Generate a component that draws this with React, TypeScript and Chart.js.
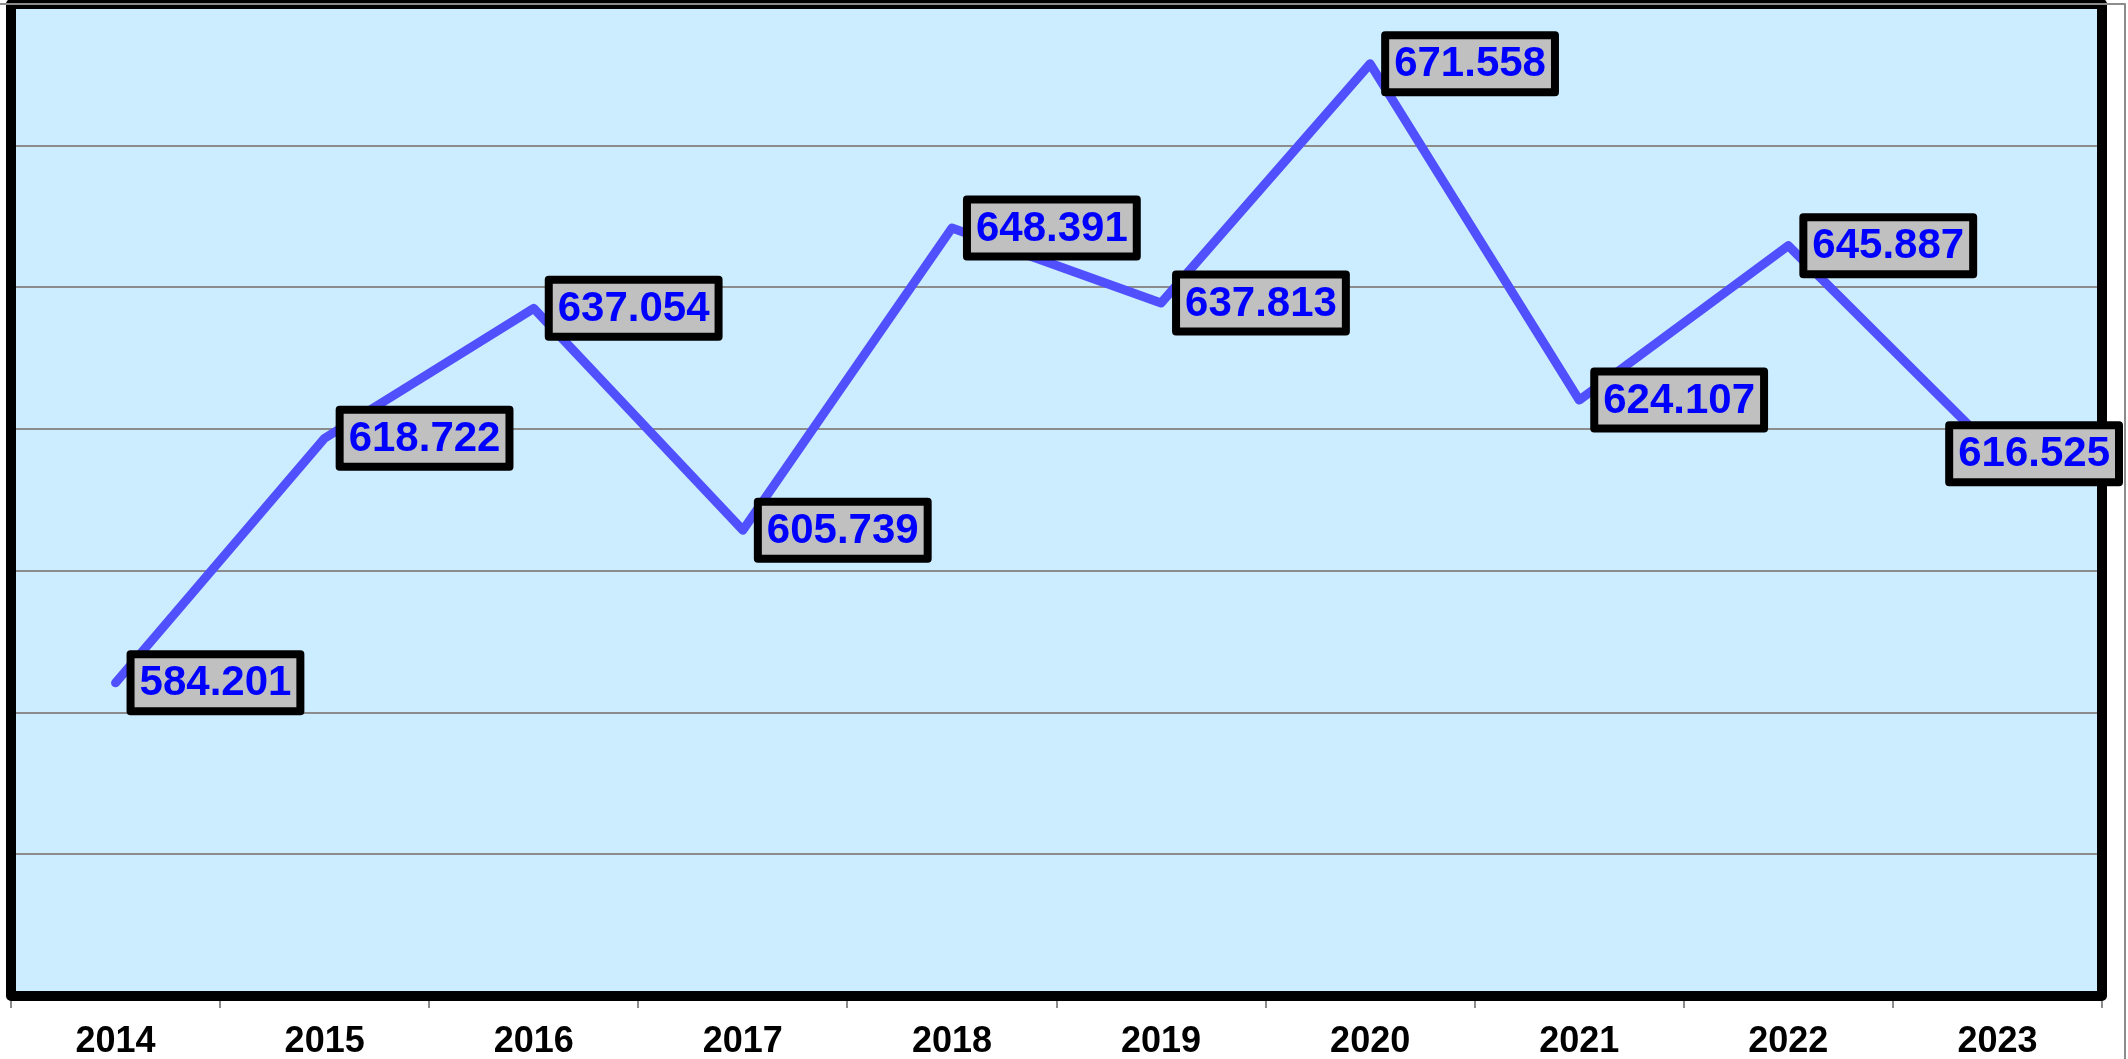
import React, { useEffect, useRef } from "react";
import { Chart, registerables } from "chart.js";

Chart.register(...registerables);

const categories = ["2014", "2015", "2016", "2017", "2018", "2019", "2020", "2021", "2022", "2023"];
const values = [584.201, 618.722, 637.054, 605.739, 648.391, 637.813, 671.558, 624.107, 645.887, 616.525];
const yMin = 540;
const yMax = 680;
const yStep = 20;

const FONT = '"Liberation Sans", Arial, sans-serif';

const decorPlugin = {
  id: "decor",
  beforeDraw(chart: any) {
    const { ctx, chartArea: a } = chart;
    ctx.save();
    ctx.fillStyle = "#CCECFF";
    ctx.fillRect(a.left, a.top, a.right - a.left, a.bottom - a.top);
    ctx.restore();
  },
  afterDatasetsDraw(chart: any) {
    const { ctx, chartArea: a, width } = chart;
    // frame
    ctx.save();
    ctx.strokeStyle = "#000000";
    ctx.lineWidth = 10;
    ctx.lineJoin = "round";
    ctx.strokeRect(a.left, a.top, a.right - a.left, a.bottom - a.top);
    // outer grey border (top and right)
    ctx.strokeStyle = "#8c8c8c";
    ctx.lineWidth = 2;
    ctx.beginPath();
    ctx.moveTo(-5, 4);
    ctx.lineTo(width - 3, 4);
    ctx.lineTo(width - 3, chart.height + 5);
    ctx.stroke();
    ctx.restore();

    // data labels
    const meta = chart.getDatasetMeta(0);
    ctx.save();
    ctx.font = "bold 42px " + FONT;
    ctx.textBaseline = "middle";
    ctx.textAlign = "center";
    meta.data.forEach((pt: any, i: number) => {
      const text = values[i].toFixed(3);
      const tw = ctx.measureText(text).width;
      const w = tw + 18;
      const h = 57;
      let left = pt.x + 15;
      const maxRight = width - 9;
      if (left + w > maxRight) left = maxRight - w;
      const top = pt.y - h / 2;
      ctx.fillStyle = "#C0C0C0";
      ctx.fillRect(left, top, w, h);
      ctx.strokeStyle = "#000000";
      ctx.lineWidth = 8;
      ctx.lineJoin = "round";
      ctx.strokeRect(left, top, w, h);
      ctx.fillStyle = "#0000FF";
      ctx.fillText(text, left + w / 2, pt.y + 1);
    });
    ctx.restore();
  },
};

export default function App() {
  const ref = useRef<HTMLCanvasElement | null>(null);
  useEffect(() => {
    document.body.style.margin = "0";
    if (!ref.current) return;
    const chart = new Chart(ref.current, {
      type: "line",
      data: {
        labels: categories,
        datasets: [
          {
            data: values,
            borderColor: "#5050FF",
            borderWidth: 9,
            borderCapStyle: "round",
            borderJoinStyle: "round",
            pointRadius: 0,
            tension: 0,
            fill: false,
          },
        ],
      },
      options: {
        animation: false,
        responsive: false,
        layout: { padding: { left: 11, right: 26, top: 4, bottom: 0 } },
        plugins: { legend: { display: false }, tooltip: { enabled: false } },
        scales: {
          x: {
            type: "category",
            offset: true,
            grid: {
              offset: true,
              drawOnChartArea: false,
              drawTicks: true,
              tickLength: 12,
              color: "#8c8c8c",
              lineWidth: 2,
            },
            border: { display: false },
            ticks: {
              color: "#000000",
              font: { family: FONT, size: 36, weight: "bold" },
              padding: 12,
              maxRotation: 0,
              autoSkip: false,
            },
            afterFit: (scale: any) => {
              scale.height = 63;
            },
          },
          y: {
            min: yMin,
            max: yMax,
            ticks: { display: false, stepSize: yStep },
            grid: { color: "#8c8c8c", lineWidth: 2, drawTicks: false },
            border: { display: false },
            afterFit: (scale: any) => {
              scale.width = 0;
            },
          },
        },
      },
      plugins: [decorPlugin],
    });
    return () => chart.destroy();
  }, []);
  return <canvas ref={ref} width={2128} height={1059} style={{ display: "block" }} />;
}
